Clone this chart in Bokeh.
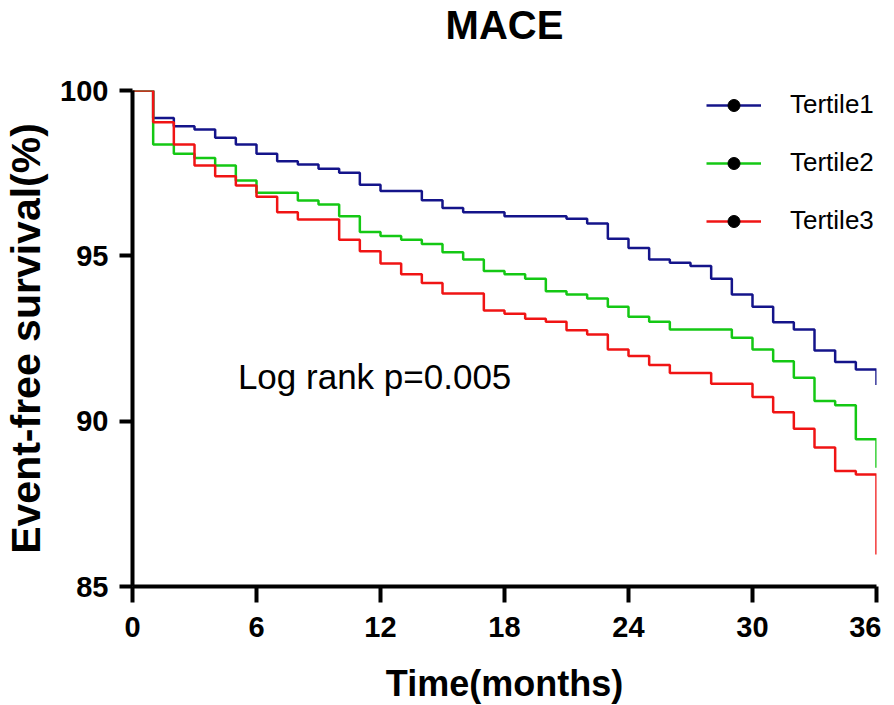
from bokeh.plotting import figure
from bokeh.models import (Range1d, Legend, LegendItem, Label, FixedTicker,
                          ColumnDataSource, Title)
from bokeh.embed import file_html
from bokeh.resources import INLINE

# Time points (months); each value holds from that month until the next
months = list(range(0, 37))

tertile1 = [100, 99.17, 98.92, 98.82, 98.57, 98.37, 98.09, 97.86, 97.76, 97.63,
            97.51, 97.15, 96.96, 96.96, 96.68, 96.45, 96.32, 96.32, 96.20, 96.20,
            96.20, 96.12, 95.98, 95.52, 95.24, 94.89, 94.79, 94.69, 94.31, 93.83,
            93.46, 92.99, 92.77, 92.14, 91.79, 91.56, 91.09]
tertile2 = [100, 98.37, 98.09, 97.96, 97.73, 97.28, 96.91, 96.91, 96.67, 96.55,
            96.20, 95.72, 95.60, 95.49, 95.36, 95.11, 94.89, 94.54, 94.44, 94.31,
            93.93, 93.83, 93.71, 93.46, 93.16, 93.01, 92.77, 92.77, 92.77, 92.52,
            92.17, 91.81, 91.31, 90.61, 90.48, 89.45, 88.59]
tertile3 = [100, 99.04, 98.37, 97.73, 97.41, 97.13, 96.79, 96.32, 96.10, 96.10,
            95.49, 95.14, 94.77, 94.44, 94.18, 93.86, 93.86, 93.35, 93.25, 93.10,
            93.01, 92.75, 92.62, 92.17, 91.97, 91.70, 91.46, 91.46, 91.13, 91.13,
            90.73, 90.27, 89.77, 89.20, 88.49, 88.39, 85.97]

series_names = ["Tertile1", "Tertile2", "Tertile3"]
series_values = [tertile1, tertile2, tertile3]
series_colors = ["#14148a", "#14c814", "#f01414"]

x_ticks = [0, 6, 12, 18, 24, 30, 36]
y_ticks = [85, 90, 95, 100]

FONT = "Liberation Sans"

p = figure(frame_width=744, frame_height=496,
           min_border_left=129, min_border_right=5,
           min_border_top=90, min_border_bottom=103,
           x_range=Range1d(0, 36), y_range=Range1d(85, 100),
           output_backend="svg", toolbar_location=None)

# spacer panel between frame and title, then the title itself (outermost)
p.add_layout(Title(text=" ", text_font=FONT, text_font_size="10px",
                   standoff=31), "above")
p.add_layout(Title(text="MACE", text_font=FONT, text_font_size="40px",
                   text_font_style="bold", text_color="black",
                   align="center", standoff=0), "above")

p.grid.visible = False
p.outline_line_color = None

for ax in (p.xaxis[0], p.yaxis[0]):
    ax.axis_line_width = 4
    ax.axis_line_color = "black"
    ax.major_tick_line_width = 4
    ax.major_tick_line_color = "black"
    ax.major_tick_in = 0
    ax.minor_tick_line_color = None
    ax.major_label_text_font = FONT
    ax.major_label_text_font_size = "29px"
    ax.major_label_text_font_style = "bold"
    ax.major_label_text_color = "black"
    ax.axis_label_text_font = FONT
    ax.axis_label_text_font_style = "bold"
    ax.axis_label_text_color = "black"

p.xaxis.ticker = FixedTicker(ticks=x_ticks)
p.yaxis.ticker = FixedTicker(ticks=y_ticks)
p.xaxis.axis_label = "Time(months)"
p.yaxis.axis_label = "Event-free survival(%)"
p.xaxis.axis_label_text_font_size = "36px"
p.yaxis.axis_label_text_font_size = "41px"
p.xaxis.major_tick_out = 16
p.yaxis.major_tick_out = 13
p.xaxis.major_label_standoff = 14
p.yaxis.major_label_standoff = 11
p.xaxis.axis_label_standoff = 23
p.yaxis.axis_label_standoff = 8

items = []
for name, vals, col in zip(series_names, series_values, series_colors):
    src = ColumnDataSource(dict(x=months, y=vals))
    r = p.step("x", "y", source=src, mode="after", line_color=col, line_width=2.5)
    dot = p.scatter(x=[float("nan")], y=[float("nan")], marker="circle",
                    size=4, color="black")
    items.append(LegendItem(label=name, renderers=[r, dot]))

legend = Legend(items=items, location=(574, 350),
                glyph_width=55, glyph_height=30, label_height=30,
                spacing=27, label_standoff=29, padding=0, margin=0,
                border_line_color=None, background_fill_alpha=0,
                label_text_font=FONT, label_text_font_size="26px",
                label_text_color="black")
p.add_layout(legend)

p.add_layout(Label(x=5.1, y=91.35, text="Log rank p=0.005",
                   text_baseline="middle", text_font=FONT,
                   text_font_size="35px", text_color="black"))

open("out.html", "w").write(file_html(p, INLINE))
